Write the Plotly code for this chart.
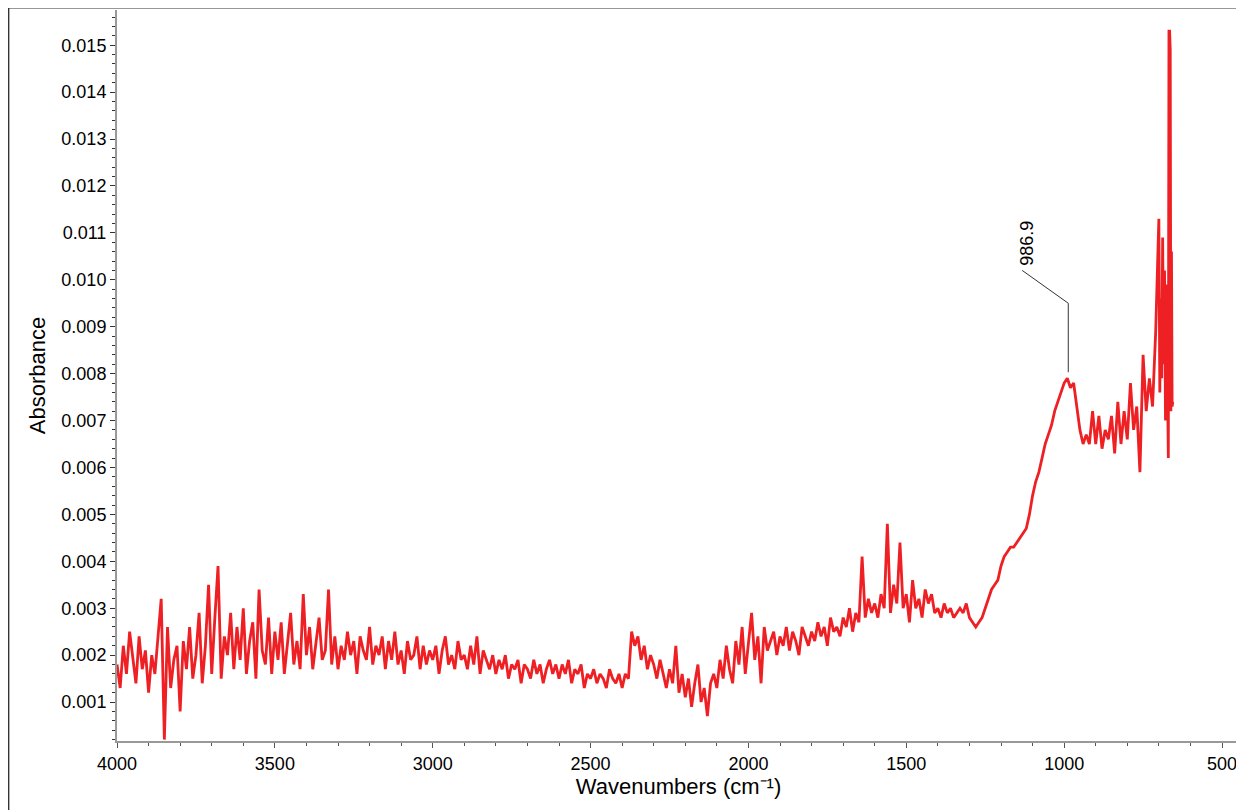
import numpy as np
import plotly.graph_objects as go

# absorbance in units of 0.001, sampled every 10 cm-1 from 4000 down to 700
grid_start, grid_stop, grid_step = 4000, 700, -10
absorb_grid = [
    1.8, 1.3, 2.2, 1.6, 2.5, 1.9, 1.4, 2.4, 1.7, 2.1,
    1.2, 2.0, 1.6, 2.4, 3.2, 0.2, 2.6, 1.3, 1.9, 2.2,
    0.8, 2.3, 1.7, 2.6, 1.5, 2.0, 2.9, 1.4, 2.2, 3.5,
    1.6, 2.8, 3.9, 1.5, 2.4, 2.0, 2.9, 1.7, 2.6, 1.9,
    3.0, 1.6, 2.3, 2.7, 1.5, 3.4, 2.1, 1.8, 2.8, 1.6,
    2.5, 1.9, 2.7, 1.6, 2.2, 2.9, 1.8, 2.3, 1.7, 3.3,
    2.0, 2.6, 1.7, 2.3, 2.8, 1.9, 2.1, 3.4, 1.8, 2.4,
    1.7, 2.2, 1.9, 2.5, 2.0, 2.3, 1.6, 2.4, 2.1, 1.9,
    2.6, 1.8, 2.2, 2.0, 2.4, 1.7, 2.3, 1.9, 2.5, 1.8,
    2.1, 1.6, 2.3, 1.9, 2.0, 2.4, 1.7, 2.2, 1.8, 2.1,
    1.9, 2.2, 1.6, 2.1, 2.4, 1.8, 2.0, 1.7, 2.3, 1.9,
    2.0, 1.7, 2.2, 1.8, 2.4, 1.6, 2.1, 1.9, 1.7, 2.0,
    1.6, 1.9, 1.7, 2.0, 1.5, 1.8, 1.7, 1.9, 1.4, 1.8,
    1.7, 1.5, 1.9, 1.6, 1.8, 1.4, 1.7, 1.9, 1.6, 1.8,
    1.5, 1.8, 1.6, 1.9, 1.4, 1.7, 1.6, 1.8, 1.3, 1.6,
    1.5, 1.7, 1.4, 1.6, 1.5, 1.3, 1.7, 1.5, 1.4, 1.6,
    1.3, 1.6, 1.5, 2.5, 2.2, 2.4, 1.9, 2.2, 1.7, 2.0,
    1.8, 1.5, 1.9, 1.6, 1.3, 1.7, 1.4, 2.2, 1.2, 1.6,
    1.1, 1.5, 0.9, 1.4, 1.8, 1.0, 1.3, 0.7, 1.4, 1.6,
    1.3, 1.9, 1.5, 2.2, 1.7, 1.4, 2.3, 1.8, 2.6, 1.6,
    2.2, 2.9, 1.9, 2.4, 1.4, 2.6, 2.1, 2.3, 2.5, 2.0,
    2.4, 2.2, 2.6, 2.1, 2.5, 2.3, 2.0, 2.6, 2.4, 2.2,
    2.5, 2.3, 2.7, 2.4, 2.6, 2.2, 2.8, 2.5, 2.6, 2.4,
    2.8, 2.6, 3.0, 2.5, 2.9, 2.7, 4.1, 2.8, 3.2, 2.9,
    3.1, 2.8, 3.3, 3.0, 4.8, 2.9, 3.5, 3.1, 4.4, 3.0,
    3.3, 2.7, 3.6, 3.0, 3.2, 2.8, 3.4, 3.1, 3.3, 2.9,
    3.0, 2.8, 3.1, 2.9, 3.0, 2.8, 2.9, 3.0, 2.9, 3.1,
    2.8, 2.7, 2.6, 2.7, 2.8, 3.0, 3.2, 3.4, 3.5, 3.6,
    3.9, 4.1, 4.2, 4.3, 4.3, 4.4, 4.5, 4.6, 4.7, 5.0,
    5.4, 5.7, 5.9, 6.2, 6.5, 6.7, 6.9, 7.2, 7.4, 7.6,
    7.8, 7.9, 7.7, 7.8, 7.3, 6.8, 6.5, 6.7, 6.5, 7.2,
    6.5, 7.1, 6.4, 6.8, 6.6, 7.1, 6.3, 7.4, 6.5, 7.2,
    6.6, 7.8, 6.8, 7.3, 5.9, 8.4, 7.2, 7.9, 7.3, 8.9,
    11.3,
]
# low-wavenumber end, sampled more finely
tail_wn = [697, 694, 691, 688, 685, 682, 679, 676, 673, 670, 668, 666, 664, 662, 660, 658, 656]
tail_abs = [7.6, 9.6, 7.9, 10.9, 8.2, 10.2, 7.0, 9.9, 7.4, 6.2, 15.3, 15.3, 14.9, 7.2, 10.6, 7.3, 7.4]

peak_wn = 986.9
peak_abs = 8.0

wn = list(np.arange(grid_start, grid_stop - 1, grid_step)) + tail_wn
ab = [v * 0.001 for v in absorb_grid + tail_abs]

fig = go.Figure()
fig.add_trace(go.Scatter(x=wn, y=ab, mode="lines",
                         line=dict(color="#ee2024", width=2.8), showlegend=False))

# peak label leader line
fig.add_trace(go.Scatter(x=[1133, peak_wn, peak_wn], y=[0.0102, 0.0095, peak_abs * 0.001 + 0.00003],
                         mode="lines", line=dict(color="#333333", width=1), showlegend=False))
fig.add_annotation(x=1120, y=0.01025, text=f"{peak_wn}", textangle=-90, showarrow=False,
                   xanchor="center", yanchor="bottom", font=dict(size=18, color="black"))

fig.update_layout(
    width=1236, height=802,
    margin=dict(l=109, r=4, t=2, b=69),
    plot_bgcolor="white", paper_bgcolor="white",
    font=dict(family="Liberation Sans, Arial", size=18, color="black"),
    xaxis=dict(range=[4000, 443], tickvals=[4000, 3500, 3000, 2500, 2000, 1500, 1000, 500],
               ticks="outside", ticklen=5, tickcolor="#555", showgrid=False, zeroline=False,
               showline=True, linecolor="#999", linewidth=2,
               minor=dict(dtick=100, ticks="outside", ticklen=3, tickcolor="#555"),
               title=dict(text="Wavenumbers (cm⁻¹)", standoff=6)),
    yaxis=dict(range=[0.00017, 0.01575], tick0=0.001, dtick=0.001, tickformat=".3f",
               ticks="outside", ticklen=5, tickcolor="#333", showgrid=False, zeroline=False,
               showline=True, linecolor="#999", linewidth=2,
               minor=dict(dtick=0.0002, ticks="outside", ticklen=3, tickcolor="#333"),
               title=dict(text="Absorbance", standoff=10)),
)
# outer frame along the top and left page edge
fig.add_shape(type="line", xref="paper", yref="paper", x0=-0.1, x1=1.01, y0=1.003, y1=1.003,
              line=dict(color="#333", width=1.5))
fig.add_shape(type="line", xref="paper", yref="paper", x0=-0.0965, x1=-0.0965, y0=1.003, y1=-0.1,
              line=dict(color="#333", width=1.5))

fig.write_html("out.html")
